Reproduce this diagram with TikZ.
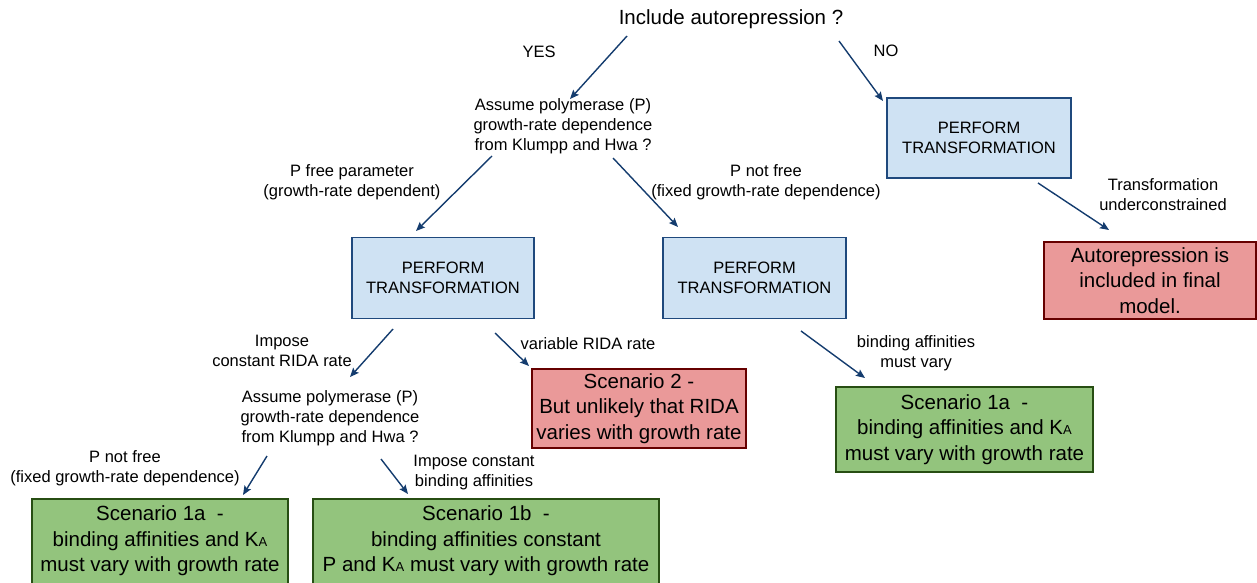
\documentclass[tikz,border=0pt]{standalone}
\usepackage{fontspec}
\setmainfont{Liberation Sans}
\usetikzlibrary{arrows.meta}
\definecolor{bluefill}{HTML}{CFE2F3}
\definecolor{blueline}{RGB}{31,73,125}
\definecolor{redfill}{HTML}{EA9999}
\definecolor{redline}{HTML}{660000}
\definecolor{greenfill}{HTML}{93C47D}
\definecolor{greenline}{HTML}{274E13}
\definecolor{arrowcol}{RGB}{20,60,110}
\newcommand{\KAsub}{K{\fontsize{13}{13}\selectfont A}}
\tikzset{
  lbl/.style={align=center,inner sep=0pt,font=\fontsize{16.5}{20}\selectfont},
  bigtxt/.style={align=center,inner sep=0pt,font=\fontsize{20.5}{25.5}\selectfont},
  bluebox/.style={draw=blueline,fill=bluefill,line width=1.8pt,align=center,inner sep=0pt,font=\fontsize{16.5}{19.5}\selectfont},
  redbox/.style={draw=redline,fill=redfill,line width=1.8pt,align=center,inner sep=0pt,font=\fontsize{20.5}{25.5}\selectfont},
  greenbox/.style={draw=greenline,fill=greenfill,line width=1.8pt,align=center,inner sep=0pt,font=\fontsize{20.5}{25.5}\selectfont},
  conn/.style={draw=arrowcol,line width=1.4pt,-{Stealth[length=9pt,width=7.5pt,inset=1.5pt]}}
}
\begin{document}
\begin{tikzpicture}[x=1pt,y=-1pt]
\useasboundingbox (0,0) rectangle (1257,583);
% texts
\node[lbl,font=\fontsize{20.5}{25}\selectfont] (title) at (731,19.5) {Include autorepression ?};
\node[lbl] (yes) at (539,51.5) {YES};
\node[lbl] (no) at (886,50.5) {NO};
\node[lbl] (q1) at (563,126.5) {Assume polymerase (P)\\growth-rate dependence\\from Klumpp and Hwa ?};
\node[lbl] (pfree) at (352,182) {P free parameter\\(growth-rate dependent)};
\node[lbl] (pnotfree1) at (766,182) {P not free\\(fixed growth-rate dependence)};
\node[lbl] (under) at (1163,194.5) {Transformation\\underconstrained};
\node[lbl] (impose) at (282,350.5) {Impose\\constant RIDA rate};
\node[lbl] (variable) at (588,343.5) {variable RIDA rate};
\node[lbl] (mustvary) at (916,353.5) {binding affinities\\must vary};
\node[lbl] (q2) at (330,418.5) {Assume polymerase (P)\\growth-rate dependence\\from Klumpp and Hwa ?};
\node[lbl] (pnotfree2) at (125,468) {P not free\\(fixed growth-rate dependence)};
\node[lbl] (imposeba) at (474,472.5) {Impose constant\\binding affinities};
% boxes
\node[bluebox,minimum width=184pt,minimum height=80pt] (t1) at (979,138) {PERFORM\\TRANSFORMATION};
\node[bluebox,minimum width=182pt,minimum height=81pt] (t2) at (443,278) {PERFORM\\TRANSFORMATION};
\node[bluebox,minimum width=183pt,minimum height=81pt] (t3) at (754.5,278) {PERFORM\\TRANSFORMATION};
\node[redbox,minimum width=212pt,minimum height=77pt] (final) at (1150,280.5) {Autorepression is\\included in final\\model.};
\node[redbox,minimum width=214pt,minimum height=79pt] (s2) at (639,408.5) {Scenario 2 -\\But unlikely that RIDA\\varies with growth rate};
\node[greenbox,minimum width=257pt,minimum height=85pt] (s1aR) at (964.5,429.5) {Scenario 1a\ \ -\\binding affinities and \KAsub\\must vary with growth rate};
\node[greenbox,minimum width=256pt,minimum height=90pt] (s1aL) at (160,544) {};
\node[bigtxt] (s1aLtxt) at (160,541) {Scenario 1a\ \ -\\binding affinities and \KAsub\\must vary with growth rate};
\node[greenbox,minimum width=346pt,minimum height=90pt] (s1b) at (486,544) {};
\node[bigtxt] (s1btxt) at (486,541) {Scenario 1b\ \ -\\binding affinities constant\\P and \KAsub{} must vary with growth rate};
% connector end points
\coordinate (a1s) at (627,36);  \coordinate (a1e) at (570,99);
\coordinate (a2s) at (839,41);  \coordinate (a2e) at (883,101);
\coordinate (a3s) at (492,156); \coordinate (a3e) at (416,231);
\coordinate (a4s) at (613,158); \coordinate (a4e) at (678,227);
\coordinate (a5s) at (1038,183); \coordinate (a5e) at (1109,230);
\coordinate (a6s) at (393,329); \coordinate (a6e) at (350,377);
\coordinate (a7s) at (495,333); \coordinate (a7e) at (529,366);
\coordinate (a8s) at (801,331); \coordinate (a8e) at (865,378);
\coordinate (a9s) at (267,456); \coordinate (a9e) at (243,495);
\coordinate (a10s) at (381,459); \coordinate (a10e) at (408,494);
\draw[conn] (a1s) -- (a1e);
\draw[conn] (a2s) -- (a2e);
\draw[conn] (a3s) -- (a3e);
\draw[conn] (a4s) -- (a4e);
\draw[conn] (a5s) -- (a5e);
\draw[conn] (a6s) -- (a6e);
\draw[conn] (a7s) -- (a7e);
\draw[conn] (a8s) -- (a8e);
\draw[conn] (a9s) -- (a9e);
\draw[conn] (a10s) -- (a10e);
\end{tikzpicture}
\end{document}
